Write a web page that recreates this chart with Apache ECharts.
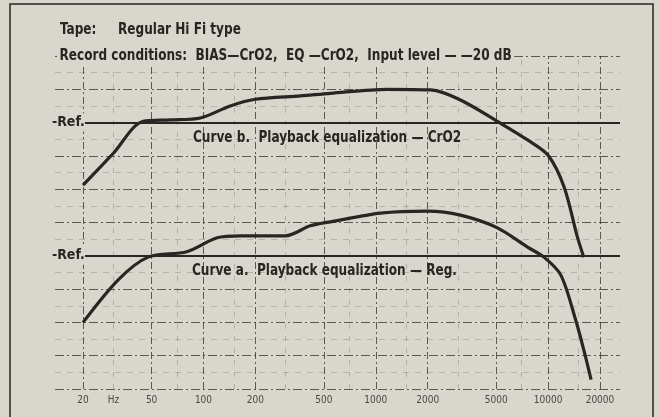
<!DOCTYPE html>
<html>
<head>
<meta charset="utf-8">
<script src="https://cdn.jsdelivr.net/npm/echarts@6/dist/echarts.min.js"></script>
<style>
  html, body { margin: 0; padding: 0; background: #d9d7cd; }
  #chart { width: 659px; height: 417px; }
</style>
</head>
<body>
<div id="chart"></div>
<script>
  // frequency grid (Hz)
  const freqLines = [20, 50, 100, 200, 500, 1000, 2000, 5000, 10000, 20000];
  const minorFreqLines = [30, 70, 150, 300, 700, 1500, 3000, 7000, 15000];
  const labelFreqs = [20, 30, 50, 100, 200, 500, 1000, 2000, 5000, 10000, 20000];
  const labelTexts = ['20', 'Hz', '50', '100', '200', '500', '1000', '2000', '5000', '10000', '20000'];

  // response level, 5 dB per division
  const refLevels = [20, 40];

  // Curve b. Playback equalization - CrO2
  const curveB = [[20, 30.6], [30, 35.4], [44.7, 40.2], [64, 40.4], [96, 40.7], [143, 42.5], [200, 43.5],
    [366, 44], [546, 44.4], [1170, 45], [2080, 44.9], [3100, 43.4], [5300, 39.9], [7600, 37.4], [10000, 35.1],
    [12400, 30.3], [14800, 22.8], [16100, 19.8]];
  // Curve a. Playback equalization - Reg.
  const curveA = [[20, 10], [32, 16.4], [47.7, 19.8], [80, 20.6], [120, 22.7], [164, 23], [299, 23], [416, 24.5],
    [546, 25.1], [1066, 26.4], [2000, 26.7], [3100, 26.1], [5080, 24.2], [7600, 21.3], [9460, 19.8], [11860, 17.1],
    [14440, 10.4], [16100, 5.9], [17760, 1.4]];

  const ink = '#2a2422';
  const paper = '#d9d7cd';
  const font = "'Liberation Sans Narrow', 'DejaVu Sans Condensed', 'Roboto', sans-serif";
  const textFont = 'bold 16px ' + font;

  // condensed caption text
  function caption(x, y, text, bg) {
    let style = { text: text, fill: ink, font: textFont };
    if (bg) {
      style.backgroundColor = paper;
      style.padding = [1, 3, 1, 3];
    }
    return { type: 'text', x: x, y: y, scaleX: 0.84, z: 10, style: style };
  }

  let myChart = echarts.init(document.getElementById('chart'));
  let option = {
    backgroundColor: paper,
    animation: false,
    grid: { left: 55, right: 39, top: 56, bottom: 28 },
    xAxis: {
      type: 'log',
      logBase: 10,
      min: 13.75,
      max: 26140,
      axisLine: { show: false },
      axisTick: { show: false },
      splitLine: { show: false },
      axisLabel: {
        customValues: labelFreqs,
        color: '#4a4744',
        fontSize: 10,
        fontFamily: font,
        margin: 6,
        formatter: function (v) {
          let i = labelFreqs.indexOf(Math.round(v));
          return i >= 0 ? labelTexts[i] : '';
        }
      }
    },
    yAxis: {
      type: 'value',
      min: 0,
      max: 50,
      interval: 5,
      axisLine: { show: false },
      axisTick: { show: false },
      axisLabel: { show: false },
      splitLine: {
        lineStyle: { color: 'rgba(50,45,40,0.75)', width: 1, type: [9, 3, 2, 3] }
      },
      minorTick: { show: true, splitNumber: 2, length: 0 },
      minorSplitLine: {
        show: true,
        lineStyle: { color: 'rgba(60,55,50,0.22)', width: 1, type: [6, 6] }
      }
    },
    series: [
      {
        // grid verticals
        type: 'line',
        data: [],
        silent: true,
        markLine: {
          symbol: 'none',
          silent: true,
          label: { show: false },
          lineStyle: { color: 'rgba(50,45,40,0.75)', width: 1, type: [7, 3, 2, 3] },
          data: freqLines.map(function (f) { return { xAxis: f }; })
        }
      },
      {
        type: 'line',
        data: [],
        silent: true,
        markLine: {
          symbol: 'none',
          silent: true,
          label: { show: false },
          lineStyle: { color: 'rgba(60,55,50,0.25)', width: 1, type: [5, 7] },
          data: minorFreqLines.map(function (f) { return { xAxis: f }; })
        }
      },
      {
        // reference levels
        type: 'line',
        data: [],
        silent: true,
        markLine: {
          symbol: 'none',
          silent: true,
          lineStyle: { color: ink, width: 2, type: 'solid' },
          label: {
            show: true,
            position: 'start',
            distance: 0,
            formatter: '-Ref.',
            color: ink,
            fontSize: 14,
            fontFamily: font,
            fontWeight: 'bold',
            backgroundColor: paper,
            padding: [2, 0, 2, 3]
          },
          data: refLevels.map(function (r) { return [{ coord: [20.5, r] }, { coord: [26140, r] }]; })
        }
      },
      {
        name: 'Curve b',
        type: 'line',
        data: curveB,
        smooth: 0.3,
        symbol: 'none',
        lineStyle: { color: ink, width: 3.2 },
        z: 5
      },
      {
        name: 'Curve a',
        type: 'line',
        data: curveA,
        smooth: 0.3,
        symbol: 'none',
        lineStyle: { color: ink, width: 3.2 },
        z: 5
      }
    ],
    graphic: [
      {
        type: 'rect',
        shape: { x: 10, y: 4, width: 643, height: 430 },
        style: { fill: 'none', stroke: ink, lineWidth: 1.5 },
        z: 10
      },
      caption(60, 22, 'Tape:'),
      caption(118, 22, 'Regular Hi Fi type'),
      caption(57, 47, 'Record conditions:  BIAS\u2014CrO2,  EQ \u2014CrO2,  Input level \u2014 \u201420 dB', true),
      caption(193, 130, 'Curve b.  Playback equalization \u2014 CrO2'),
      caption(192, 263, 'Curve a.  Playback equalization \u2014 Reg.')
    ]
  };
  myChart.setOption(option);
  window.onresize = myChart.resize;
</script>
</body>
</html>
